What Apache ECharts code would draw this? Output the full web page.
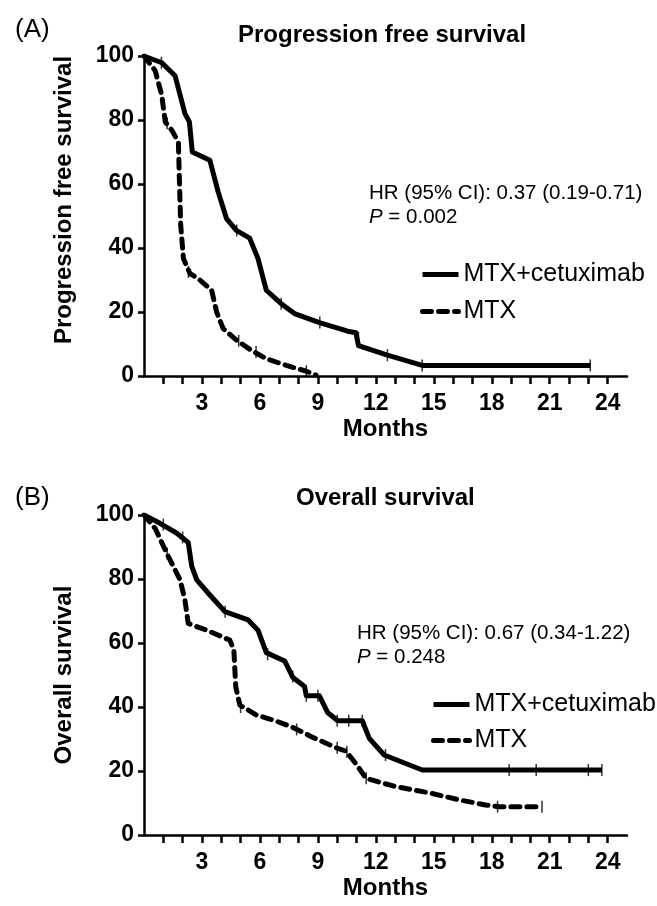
<!DOCTYPE html>
<html>
<head>
<meta charset="utf-8">
<script src="https://cdn.jsdelivr.net/npm/echarts@6/dist/echarts.min.js"></script>
<style>html,body{margin:0;padding:0;background:#fff;}#c{width:657px;height:906px;}</style>
</head>
<body>
<div id="c"></div>
<script>
// ---- Data (months, survival %) ----
const pfsCetuxMonths = [0, 0.92, 1.61, 2.12, 2.35, 2.5, 3.41, 3.84, 4.27, 4.78, 5.47, 5.9, 6.33, 7.1, 7.79, 9.08, 10.54, 10.97, 11.1, 12.6, 14.4, 23.1];
const pfsCetuxValues = [100, 97.9, 93.8, 82, 79.4, 70, 67.4, 57.5, 49.2, 45.5, 43.1, 36.7, 26.8, 22.6, 19.5, 16.7, 14, 13.5, 9.5, 6.5, 3.3, 3.3];
const pfsMtxMonths = [0, 0.58, 0.92, 1.1, 1.44, 1.78, 1.83, 1.9, 2.04, 2.38, 2.81, 3.5, 3.76, 4.1, 4.79, 5.56, 6.33, 7.37, 8.4, 8.9];
const pfsMtxValues = [100, 95.4, 87.7, 79.4, 76.8, 73.1, 61.7, 47.1, 36.7, 32, 30.4, 26.8, 20, 14.8, 11.2, 8, 5.4, 3.3, 1.5, 0.3];
const osCetuxMonths = [0, 0.83, 1.7, 2.29, 2.47, 2.73, 3.41, 4.19, 5.39, 5.9, 6.33, 7.28, 7.71, 8.31, 8.4, 9.08, 9.5, 10.03, 11.3, 11.66, 12.43, 14.4, 23.7];
const osCetuxValues = [100, 97.4, 94.3, 91.4, 84, 79.7, 75, 69.8, 67.2, 64, 57, 54.4, 49.2, 46.4, 43.5, 43.5, 38.3, 35.7, 35.7, 30.2, 25, 20.3, 20.3];
const osMtxMonths = [0, 0.58, 1.18, 1.87, 2.12, 2.29, 3.24, 4.44, 4.65, 4.75, 4.96, 5.82, 6.85, 7.71, 8.74, 9.94, 10.46, 11.06, 11.49, 13.04, 14.75, 16.3, 17.68, 18.36, 20.6];
const osMtxValues = [100, 95.8, 88, 79.7, 73.4, 66.1, 64, 60.9, 57.8, 46.3, 40.6, 37.5, 35.6, 33.6, 30.5, 27.3, 26.2, 21.5, 17.7, 15.1, 13.2, 11, 9.4, 8.85, 8.85];
// censor marks
const pfsCetuxCensorMonths = [0.9, 4.8, 7.1, 9.1, 11.1, 12.6, 14.4, 23.1];
const pfsCetuxCensorValues = [97.9, 45.5, 22.6, 16.7, 12, 6.5, 3.3, 3.3];
const pfsMtxCensorMonths = [1.2, 2.3, 3.8, 4.9, 5.8, 8.4];
const pfsMtxCensorValues = [79, 32.5, 20, 11, 7.5, 1.5];
const osCetuxCensorMonths = [1.0, 2.0, 4.2, 6.4, 7.7, 8.4, 9.0, 10.0, 10.6, 11.3, 12.5, 18.9, 20.3, 23.0, 23.7];
const osCetuxCensorValues = [97, 93, 69.8, 56.5, 49.5, 43.5, 43.5, 35.7, 35.7, 35.7, 25, 20.3, 20.3, 20.3, 20.3];
const osMtxCensorMonths = [1.2, 5.0, 7.9, 10.0, 10.5, 11.5, 18.3, 20.6];
const osMtxCensorValues = [88, 40, 33, 27.3, 26, 17.7, 8.85, 8.85];

const xTickValues = [1,2,3,4,5,6,7,8,9,10,11,12,13,14,15,16,17,18,19,20,21,22,23,24];
const xLabelValues = [3,6,9,12,15,18,21,24];
const seriesNames = ['MTX+cetuximab', 'MTX'];

const FONT = 'Liberation Sans, Arial, sans-serif';
const zip = (a, b) => a.map((v, i) => [v, b[i]]);

function xAxis(gi) {
  return {
    type: 'value', gridIndex: gi, min: 0, max: 25,
    name: 'Months', nameLocation: 'middle', nameGap: 41,
    nameTextStyle: {fontFamily: FONT, fontSize: 24, fontWeight: 'bold', color: '#000'},
    axisLine: {lineStyle: {color: '#000', width: 2.5}},
    axisTick: {show: true, customValues: xTickValues, length: 8, lineStyle: {color: '#000', width: 2.5}},
    axisLabel: {customValues: xLabelValues, margin: 16, fontFamily: FONT, fontSize: 23, fontWeight: 'bold', color: '#000'},
    splitLine: {show: false}
  };
}
function yAxis(gi, name, pad) {
  return {
    type: 'value', gridIndex: gi, min: 0, max: 100, interval: 20,
    name: name, nameLocation: 'middle', nameGap: 68,
    nameTextStyle: {fontFamily: FONT, fontSize: 24, fontWeight: 'bold', color: '#000', padding: pad},
    axisLine: {show: true, lineStyle: {color: '#000', width: 2.5}},
    axisTick: {show: true, length: 6, lineStyle: {color: '#000', width: 2.5}},
    axisLabel: {margin: 10, fontFamily: FONT, fontSize: 23, fontWeight: 'bold', color: '#000'},
    splitLine: {show: false}
  };
}
function lineSeries(name, gi, months, values, dashed) {
  return {
    name: name, type: 'line', xAxisIndex: gi, yAxisIndex: gi,
    data: zip(months, values), symbol: 'none', animation: false,
    lineStyle: {color: '#000', width: 5, type: dashed ? [9, 7] : 'solid', cap: dashed ? 'round' : 'butt', join: 'round'},
    itemStyle: {color: '#000'}
  };
}
function censorSeries(gi, months, values) {
  return {
    name: 'censor', type: 'scatter', xAxisIndex: gi, yAxisIndex: gi,
    data: zip(months, values), symbol: 'rect', symbolSize: [1.5, 12], animation: false,
    itemStyle: {color: '#000'}, silent: true
  };
}
function annot(hr, p) {
  return '{n|HR (95% CI): ' + hr + '}\n{i|P}{n| = ' + p + '}';
}
const annotStyle = {
  fontWeight: 'normal',
  rich: {
    n: {fontFamily: FONT, fontSize: 20.5, fontWeight: 'normal', color: '#000', lineHeight: 24.5},
    i: {fontFamily: FONT, fontSize: 20.5, fontWeight: 'normal', color: '#000', fontStyle: 'italic', lineHeight: 24.5}
  }
};
function legend(left, top, gap) {
  return {
    data: seriesNames, orient: 'vertical', left: left, top: top, padding: 0,
    itemWidth: 36, itemHeight: 14, itemGap: gap,
    itemStyle: {opacity: 0},
    lineStyle: {width: 5},
    textStyle: {fontFamily: FONT, fontSize: 25, color: '#000'}
  };
}

const chart = echarts.init(document.getElementById('c'), null, {renderer: 'canvas'});
chart.setOption({
  backgroundColor: '#fff',
  animation: false,
  title: [
    {text: '(A)', left: 10, top: 12, textStyle: {fontFamily: FONT, fontSize: 26, fontWeight: 'normal', color: '#000'}},
    {text: 'Progression free survival', left: 233, top: 18, textStyle: {fontFamily: FONT, fontSize: 24, fontWeight: 'bold', color: '#000'}},
    {text: annot('0.37 (0.19-0.71)', '0.002'), left: 364, top: 176, textStyle: annotStyle},
    {text: '(B)', left: 10, top: 480, textStyle: {fontFamily: FONT, fontSize: 26, fontWeight: 'normal', color: '#000'}},
    {text: 'Overall survival', left: 291, top: 481, textStyle: {fontFamily: FONT, fontSize: 24, fontWeight: 'bold', color: '#000'}},
    {text: annot('0.67 (0.34-1.22)', '0.248'), left: 352, top: 616, textStyle: annotStyle}
  ],
  legend: [legend(420, 262, 12), legend(431, 692, 11)],
  grid: [
    {left: 144, top: 56, width: 483, height: 320, containLabel: false},
    {left: 144, top: 515, width: 483, height: 320, containLabel: false}
  ],
  xAxis: [xAxis(0), xAxis(1)],
  yAxis: [yAxis(0, 'Progression free survival', [0, 0, 0, 32]), yAxis(1, 'Overall survival', 0)],
  series: [
    lineSeries(seriesNames[0], 0, pfsCetuxMonths, pfsCetuxValues, false),
    lineSeries(seriesNames[1], 0, pfsMtxMonths, pfsMtxValues, true),
    censorSeries(0, pfsCetuxCensorMonths, pfsCetuxCensorValues),
    censorSeries(0, pfsMtxCensorMonths, pfsMtxCensorValues),
    lineSeries(seriesNames[0], 1, osCetuxMonths, osCetuxValues, false),
    lineSeries(seriesNames[1], 1, osMtxMonths, osMtxValues, true),
    censorSeries(1, osCetuxCensorMonths, osCetuxCensorValues),
    censorSeries(1, osMtxCensorMonths, osMtxCensorValues)
  ]
});
</script>
</body>
</html>
